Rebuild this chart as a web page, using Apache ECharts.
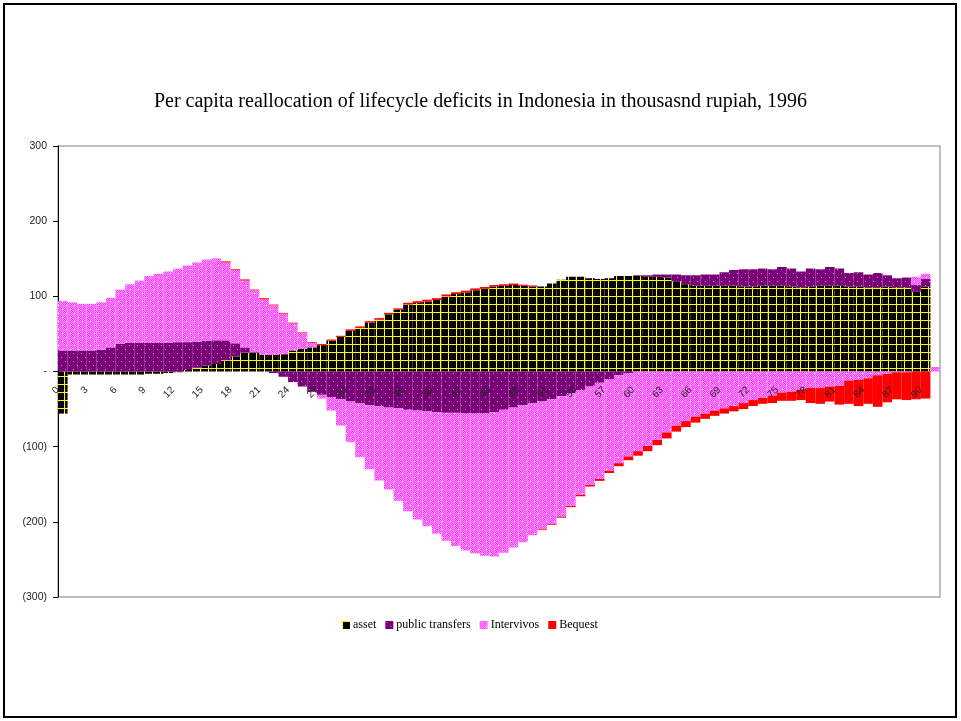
<!DOCTYPE html>
<html>
<head>
<meta charset="utf-8">
<script src="https://cdn.jsdelivr.net/npm/echarts@6/dist/echarts.min.js"></script>
<style>
  html, body { margin: 0; padding: 0; background: #fff; }
  #chart { width: 961px; height: 721px; }
</style>
</head>
<body>
<div id="chart"></div>
<script>
// age groups 0..91 (the last one is unlabeled)
const ages = [
  0, 1, 2, 3, 4, 5, 6, 7, 8, 9,
  10, 11, 12, 13, 14, 15, 16, 17, 18, 19,
  20, 21, 22, 23, 24, 25, 26, 27, 28, 29,
  30, 31, 32, 33, 34, 35, 36, 37, 38, 39,
  40, 41, 42, 43, 44, 45, 46, 47, 48, 49,
  50, 51, 52, 53, 54, 55, 56, 57, 58, 59,
  60, 61, 62, 63, 64, 65, 66, 67, 68, 69,
  70, 71, 72, 73, 74, 75, 76, 77, 78, 79,
  80, 81, 82, 83, 84, 85, 86, 87, 88, 89,
  90, 91
]

const asset = [
  -56, -4, -4, -4, -4, -4, -4, -4, -4, -3,
  -3, -2, -1, 2, 5, 8, 10, 15, 20, 25,
  25, 22, 22, 23, 28, 30, 32, 35, 41, 46,
  54, 58, 65, 69, 76, 82, 89, 91, 93, 95,
  100, 103, 105, 108, 110, 113, 114, 115, 114, 113,
  113, 117, 122, 126, 126, 124, 123, 124, 127, 127,
  127, 126, 126, 125, 120, 116, 114, 114, 114, 114,
  114, 113, 113, 114, 114, 114, 113, 112, 113, 114,
  114, 114, 113, 113, 112, 112, 113, 112, 112, 106,
  113, 0
]

const publicTransfers = [
  28, 28, 28, 28, 29, 32, 37, 38, 38, 38,
  38, 38.5, 39, 37, 34.5, 33, 31.5, 26.5, 17.5, 7,
  1.5, 0, -2, -7, -14, -20, -27, -31, -34, -37,
  -40, -42, -45, -46, -48, -49, -51, -52, -53, -54,
  -55, -55, -56, -56, -56, -54, -51, -48, -45, -42,
  -40, -37, -33, -29, -25, -20, -15, -10, -5, -2,
  1, 2, 3, 4, 9, 12, 14, 15, 15, 18,
  21, 23, 23, 23, 22, 25, 24, 21, 24, 22,
  25, 23, 18, 19, 17, 19, 15, 12, 13, 9,
  10, 0
]

const intervivos = [
  66, 64, 62, 62, 63, 66, 72, 78, 83, 89,
  92, 94.5, 98, 102, 105.5, 108, 109, 103.5, 97.5, 89,
  81.5, 74, 66, 54, 36, 21, 6, -5, -18, -35,
  -54, -72, -85, -99, -109, -123, -135, -145, -153, -162,
  -170, -177, -182, -186, -189, -192, -190, -186, -182, -176,
  -170, -166, -160, -150, -139, -131, -128, -122, -117, -111,
  -106, -99, -91, -81, -72, -66, -60, -56, -52, -49,
  -46, -42, -38, -35, -32, -28, -27, -24, -22, -22,
  -20, -19, -12, -11, -9, -5, -3, -1, -1, 11,
  7, 6
]

const bequest = [
  0, 0, 0, 0, 0, 0, 0, 0, 0, 0,
  0, 0, 0, 0, 0, 0, 0, 1.5, 1, 1.5,
  1, 1.5, 1, 1, 1, 1, 1, 1.5, 1.5, 1.5,
  2, 2, 2, 2, 2, 2, 2.5, 2.5, 2.5, 2.5,
  2.5, 2.5, 2.5, 2.5, 2.5, 2, 2, 2, 1.5, 1.5,
  -1, -1, -1.5, -1.5, -2, -2, -2.5, -3, -4, -5,
  -6, -7, -7, -8, -8, -8, -8, -7, -7, -7,
  -7, -8, -8, -8, -10, -11, -12, -14, -20, -21,
  -20, -25, -31, -35, -34, -42, -38, -36, -37, -37,
  -36, 0
]

const seriesNames = ['asset', 'public transfers', 'Intervivos', 'Bequest']
const yTicks = [-300, -200, -100, 0, 100, 200, 300]

// excel style fill patterns
function pattern (size, draw) {
  const c = document.createElement('canvas')
  c.width = size
  c.height = size
  draw(c.getContext('2d'))
  return { image: c, repeat: 'repeat' }
}

const assetFill = pattern(8, ctx => {
  ctx.fillStyle = '#000'
  ctx.fillRect(0, 0, 8, 8)
  ctx.fillStyle = '#ffff00'
  ctx.fillRect(0, 0, 8, 1)
  ctx.fillRect(0, 0, 1, 8)
})

const transferFill = pattern(8, ctx => {
  ctx.fillStyle = '#7a0078'
  ctx.fillRect(0, 0, 8, 8)
  ctx.fillStyle = '#c890c8'
  ctx.fillRect(1, 1, 1, 1)
  ctx.fillRect(5, 5, 1, 1)
})

const intervivosFill = pattern(8, ctx => {
  ctx.fillStyle = '#ff40ff'
  ctx.fillRect(0, 0, 8, 8)
  ctx.fillStyle = '#ff90ff'
  for (let y = 0; y < 8; y++) {
    for (let x = (y % 2); x < 8; x += 2) ctx.fillRect(x, y, 1, 1)
  }
  ctx.fillStyle = '#ffe0ff'
  ctx.fillRect(2, 1, 1, 1)
  ctx.fillRect(6, 5, 1, 1)
})

const fills = [assetFill, transferFill, intervivosFill, '#ff0000']
const values = [asset, publicTransfers, intervivos, bequest]

const chart = echarts.init(document.getElementById('chart'))

const option = {
  backgroundColor: '#fff',
  animation: false,
  title: {
    text: 'Per capita reallocation of lifecycle deficits in Indonesia in thousasnd rupiah, 1996',
    left: 'center',
    top: 87,
    textStyle: {
      fontFamily: 'Liberation Serif',
      fontSize: 20,
      fontWeight: 'normal',
      color: '#000'
    }
  },
  legend: {
    data: seriesNames,
    top: 614,
    left: 337,
    icon: 'rect',
    itemWidth: 8,
    itemHeight: 8,
    itemGap: 9,
    textStyle: {
      fontFamily: 'Liberation Serif',
      fontSize: 12,
      color: '#000',
      padding: [0, 0, 0, -2]
    }
  },
  grid: {
    left: 58,
    right: 21,
    top: 146,
    bottom: 124,
    show: true,
    borderColor: '#aaaaaa',
    borderWidth: 1.5
  },
  xAxis: {
    type: 'category',
    data: ages,
    position: 'bottom',
    // the category axis sits on the zero line of the value axis
    offset: -225.5,
    z: 10,
    axisLine: { show: true, onZero: false, lineStyle: { color: 'rgba(0,0,0,0)' } },
    axisTick: { show: false },
    axisLabel: {
      interval: 2,
      rotate: 45,
      margin: 12,
      padding: [0, 7, 0, 0],
      fontFamily: 'Liberation Sans',
      fontSize: 10,
      color: '#222'
    }
  },
  yAxis: {
    type: 'value',
    min: yTicks[0],
    max: yTicks[yTicks.length - 1],
    interval: 100,
    splitLine: { show: false },
    axisLine: { show: true, lineStyle: { color: '#000', width: 1 } },
    axisTick: { show: true, length: 5, lineStyle: { color: '#000' } },
    axisLabel: {
      margin: 11,
      fontFamily: 'Liberation Sans',
      fontSize: 10.5,
      color: '#222',
      formatter: v => v === 0 ? '-' : (v < 0 ? '(' + (-v) + ')' : String(v))
    }
  },
  graphic: [{
    type: 'rect',
    silent: true,
    z: 100,
    shape: { x: 4, y: 4, width: 952, height: 713 },
    style: { fill: 'none', stroke: '#000', lineWidth: 2 }
  }],
  series: seriesNames.map((name, i) => ({
    name,
    type: 'bar',
    stack: 'total',
    barCategoryGap: '0%',
    data: values[i],
    itemStyle: { color: fills[i] },
    emphasis: { disabled: true }
  }))
}

chart.setOption(option)
</script>
</body>
</html>
